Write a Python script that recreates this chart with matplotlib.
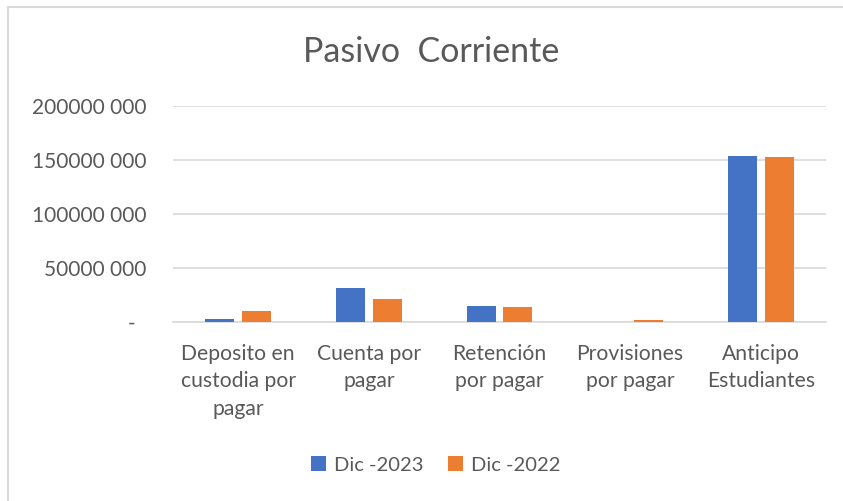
import matplotlib
matplotlib.use("Agg")
import matplotlib.pyplot as plt
from matplotlib.ticker import FuncFormatter
from matplotlib.patches import Rectangle
import numpy as np

plt.rcParams['font.family'] = ['Lato', 'DejaVu Sans']

categories = ["Deposito en\ncustodia por\npagar", "Cuenta por\npagar", "Retención\npor pagar",
              "Provisiones\npor pagar", "Anticipo\nEstudiantes"]
dic_2023 = [2.8e6, 31.8e6, 14.8e6, 0.3e6, 153.3e6]
dic_2022 = [10.2e6, 21.0e6, 14.2e6, 1.9e6, 152.4e6]
series_names = ["Dic -2023", "Dic -2022"]
yticks = [0, 50e6, 100e6, 150e6, 200e6]

W, H = 843, 501
fig = plt.figure(figsize=(W/100, H/100), dpi=100)
ax = fig.add_axes([173/W, (H-322)/H, (826-173)/W, (322-106)/H])

text_color = "#595959"
x = np.arange(len(categories))
bw = 0.222
off = 0.141
ax.bar(x - off, dic_2023, bw, color="#4472C4", label=series_names[0], zorder=3)
ax.bar(x + off, dic_2022, bw, color="#ED7D31", label=series_names[1], zorder=3)

ax.set_xlim(-0.5, len(categories) - 0.5)
ax.set_ylim(0, 200e6)
ax.set_yticks(yticks)

def fmt(v, pos):
    if abs(v) < 1:
        return "-  "
    s = f"{int(round(v)):d}"
    return s[:-3] + " " + s[-3:]

ax.yaxis.set_major_formatter(FuncFormatter(fmt))
ax.set_xticks(x)
ax.set_xticklabels(categories, linespacing=1.45)
ax.tick_params(axis='both', length=0, labelcolor=text_color)
ax.tick_params(axis='y', pad=19, labelsize=15)
ax.tick_params(axis='x', pad=16, labelsize=15.2)
ax.grid(axis='y', color="#D9D9D9", linewidth=1.2, zorder=0)
for s in ['top', 'right', 'left']:
    ax.spines[s].set_visible(False)
ax.spines['bottom'].set_color("#D9D9D9")
ax.spines['bottom'].set_linewidth(1.2)

fig.text(431/W, 1 - 52/H, "Pasivo  Corriente", ha='center', va='center', fontsize=24.5, color=text_color)

leg = fig.legend(loc='center', bbox_to_anchor=(436/W, 1 - 465/H), ncol=2, frameon=False,
                 fontsize=14.5, handlelength=0.75, handleheight=0.75, columnspacing=1.2, handletextpad=0.4)
for t in leg.get_texts():
    t.set_color(text_color)

fig.patches.append(Rectangle((8/W, -0.1), 1.2, (H-7)/H + 0.1, transform=fig.transFigure,
                             fill=False, edgecolor="#D9D9D9", linewidth=1.5))

fig.savefig("out.png", dpi=100, facecolor="white")
